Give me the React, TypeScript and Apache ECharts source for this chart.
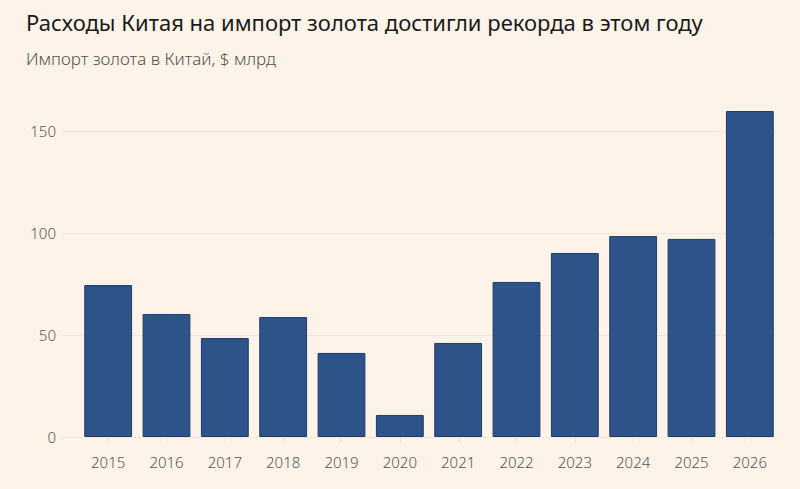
import { useEffect, useRef } from 'react';
import * as echarts from 'echarts';

const years = ['2015', '2016', '2017', '2018', '2019', '2020', '2021', '2022', '2023', '2024', '2025', '2026'];
const importValues = [74.5, 60.3, 48.5, 58.8, 41.2, 10.8, 46.1, 76, 90.2, 98.5, 97.1, 159.8];
const yTicks = [0, 50, 100, 150];

const TITLE = 'Расходы Китая на импорт золота достигли рекорда в этом году';
const SUBTITLE = 'Импорт золота в Китай, $ млрд';

const BG = '#fdf3e9';
const FONT = '"Noto Sans", "Open Sans", sans-serif';

export default function App() {
  const el = useRef<HTMLDivElement>(null);

  useEffect(() => {
    document.body.style.margin = '0';
    document.body.style.background = BG;
    if (!el.current) return;
    const chart = echarts.init(el.current, undefined, { renderer: 'svg' });

    const yMax = yTicks[yTicks.length - 1];
    const yStep = yTicks[1] - yTicks[0];

    chart.setOption({
      animation: false,
      backgroundColor: BG,
      textStyle: { fontFamily: FONT },
      title: [
        {
          text: TITLE,
          left: 21,
          top: 6,
          textStyle: { fontFamily: FONT, fontSize: 22, fontWeight: 400, color: '#1a1a1a' },
        },
        {
          text: SUBTITLE,
          left: 21,
          top: 45,
          textStyle: { fontFamily: FONT, fontSize: 17, fontWeight: 300, color: '#56514c' },
        },
      ],
      // grid 0 carries the value axis and its full-width gridlines,
      // grid 1 holds the bars, inset a little on the left like the original
      grid: [
        { left: 62, right: 24, top: 131, bottom: 52 },
        { left: 79, right: 21, top: 131, bottom: 52 },
      ],
      xAxis: [
        { type: 'category', gridIndex: 0, data: years, show: false },
        {
          type: 'category',
          gridIndex: 1,
          data: years,
          axisLine: { show: false },
          axisTick: { show: true, alignWithLabel: true, length: 5, lineStyle: { color: '#ece1d6' } },
          axisLabel: { color: '#5a5550', fontSize: 15, fontWeight: 300, margin: 17, fontFamily: FONT },
        },
      ],
      yAxis: [
        {
          type: 'value',
          gridIndex: 0,
          min: 0,
          max: yMax,
          interval: yStep,
          axisLine: { show: false },
          axisTick: { show: false },
          axisLabel: { color: '#5a5550', fontSize: 15, fontWeight: 300, margin: 6, fontFamily: FONT },
          splitLine: { lineStyle: { color: '#f0e5da', width: 1 } },
        },
        {
          type: 'value',
          gridIndex: 1,
          min: 0,
          max: yMax,
          interval: yStep,
          show: false,
          splitLine: { show: false },
        },
      ],
      series: [
        {
          type: 'bar',
          xAxisIndex: 1,
          yAxisIndex: 1,
          data: importValues,
          clip: false,
          barCategoryGap: '18%',
          itemStyle: { color: '#2d5389', borderColor: '#1f3d6b', borderWidth: 1 },
        },
      ],
    });

    return () => chart.dispose();
  }, []);

  return <div ref={el} style={{ width: 800, height: 489 }} />;
}
